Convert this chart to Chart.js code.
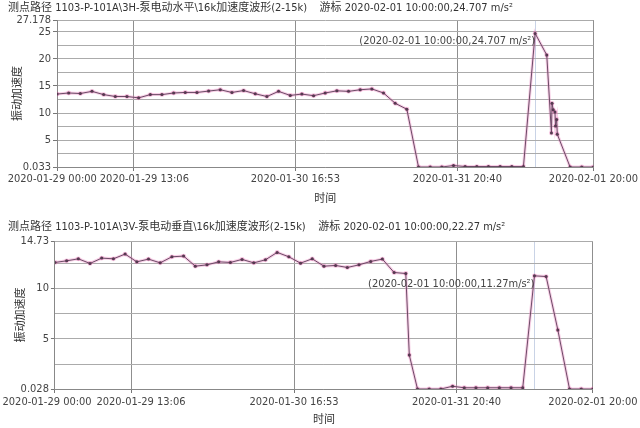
<!DOCTYPE html>
<html><head><meta charset="utf-8">
<script src="https://cdn.jsdelivr.net/npm/chart.js@4/dist/chart.umd.min.js"></script>
<style>
html,body{margin:0;padding:0;background:#fff;}
#wrap{position:relative;width:640px;height:428px;overflow:hidden;background:#fff;}
#c1{position:absolute;left:0;top:0;}
#c2{position:absolute;left:0;top:210px;}
</style></head><body>
<div id="wrap"><canvas id="c1" width="640" height="210"></canvas><canvas id="c2" width="640" height="218"></canvas></div>
<script>
// ---- data (x = hours since 2020-01-29 00:00) ----
const startTime = '2020-01-29 00:00';
const xTickHours = [0, 13.1, 40.883, 68.667, 82, 92];
const xTickLabels = ['2020-01-29 00:00', '2020-01-29 13:06', '2020-01-30 16:53', '2020-01-31 20:40', '', '2020-02-01 20:00'];
const cursorHour = 82;

const topTitle = '测点路径 1103-P-101A\\3H-泵电动水平\\16k加速度波形(2-15k)    游标 2020-02-01 10:00:00,24.707 m/s²';
const topCursorText = '(2020-02-01 10:00:00,24.707 m/s²)';
const topCursorValue = 24.707;
const topYTicks = [0.033, 2.5, 5, 7.5, 10, 12.5, 15, 17.5, 20, 22.5, 25, 27.178];
const topYLabels = ['0.033', '', '5', '', '10', '', '15', '', '20', '', '25', '27.178'];
const hoursTop = [0,2,4,6,8,10,12,14,16,18,20,22,24,26,28,30,32,34,36,38,40,42,44,46,48,50,52,54,56,58,60,62,64,66,68,70,72,74,76,78,80,82,84,84.8,84.9,85.1,85.4,85.5,85.7,85.8,88,90,92];
const accelTop = [13.5,13.7,13.6,14.0,13.4,13.05,13.05,12.8,13.4,13.4,13.7,13.8,13.8,14.05,14.3,13.8,14.15,13.55,13.05,14.0,13.25,13.5,13.2,13.7,14.1,14.0,14.3,14.45,13.7,11.8,10.7,0.033,0.033,0.033,0.3,0.12,0.12,0.12,0.12,0.12,0.12,24.707,20.7,6.3,11.8,10.6,10.2,7.6,8.8,6.1,0.033,0.033,0.033];

const bottomTitle = '测点路径 1103-P-101A\\3V-泵电动垂直\\16k加速度波形(2-15k)    游标 2020-02-01 10:00:00,22.27 m/s²';
const bottomCursorText = '(2020-02-01 10:00:00,11.27m/s²)';
const bottomCursorValue = 11.27;
const bottomYTicks = [0.028, 2.5, 5, 7.5, 10, 12.5, 14.73];
const bottomYLabels = ['0.028', '', '5', '', '10', '', '14.73'];
const hoursBottom = [0,2,4,6,8,10,12,14,16,18,20,22,24,26,28,30,32,34,36,38,40,42,44,46,48,50,52,54,56,58,60,60.6,62,64,66,68,70,72,74,76,78,80,82,84,86,88,90,92];
const accelBottom = [12.6,12.76,12.96,12.5,13.03,12.96,13.43,12.66,12.93,12.56,13.16,13.23,12.23,12.36,12.66,12.6,12.9,12.56,12.86,13.6,13.16,12.53,12.96,12.23,12.3,12.1,12.36,12.7,12.93,11.6,11.5,3.4,0.028,0.028,0.028,0.3,0.15,0.15,0.15,0.15,0.15,0.15,11.27,11.2,5.9,0.028,0.028,0.028];

// ---- rendering ----
const FONT = '"DejaVu Sans Condensed", "Liberation Sans", "Noto Sans CJK SC", sans-serif';
const TXT = '#444';

const cursorLabel = {
  id: 'cursorLabel',
  afterDatasetsDraw(chart, args, opts) {
    const {ctx, scales: {x, y}} = chart;
    const px = x.getPixelForValue(opts.hour);
    const py = y.getPixelForValue(opts.value);
    ctx.save();
    ctx.font = '11px ' + FONT;
    ctx.fillStyle = TXT;
    ctx.textAlign = 'right';
    ctx.textBaseline = 'middle';
    ctx.fillText(opts.text, px, py + 8);
    ctx.restore();
  }
};

function makeChart(canvasId, cfg) {
  const pts = cfg.hours.map((h, i) => ({x: h, y: cfg.values[i]}));
  const shiftLabel = (i) => {
    const s = xTickLabels[i];
    if (i === 0) return s + ' '.repeat(cfg.firstShift);
    if (i === 1) return ' '.repeat(cfg.secondShift) + s;
    return s;
  };
  return new Chart(document.getElementById(canvasId), {
    type: 'line',
    data: {
      datasets: [
        {data: pts, borderColor: '#6c4a66', borderWidth: 1, pointRadius: 1.5, pointBackgroundColor: '#553a50', pointBorderWidth: 0, tension: 0, order: 0},
        {data: pts, borderColor: 'rgba(235,130,190,0.38)', borderWidth: 3, pointRadius: 2.4, pointBackgroundColor: 'rgba(225,90,165,0.35)', pointBorderWidth: 0, tension: 0, order: 1}
      ]
    },
    options: {
      responsive: false,
      animation: false,
      layout: {padding: {left: 8, right: 44, top: 0, bottom: 0}},
      plugins: {
        legend: {display: false},
        tooltip: {enabled: false},
        title: {display: true, text: cfg.title, align: 'start', color: '#333',
          font: {family: FONT, size: 11, weight: 'normal'}, padding: cfg.titlePad},
        cursorLabel: {hour: cursorHour, value: cfg.cursorValue, text: cfg.cursorText}
      },
      scales: {
        x: {
          type: 'linear', min: 0, max: 92,
          afterBuildTicks: s => { s.ticks = xTickHours.map(v => ({value: v})); },
          afterFit: s => { s.height = cfg.xHeight; },
          ticks: {autoSkip: false, maxRotation: 0, minRotation: 0, padding: cfg.xTickPad, color: TXT,
            font: {family: FONT, size: 11}, callback: (v, i) => shiftLabel(i)},
          grid: {
            color: c => (c.tick && c.tick.value === cursorHour) ? '#c9d3e6' : '#8f8f8f',
            tickColor: c => (c.tick && c.tick.value === cursorHour) ? 'rgba(0,0,0,0)' : '#777',
            tickLength: 4, lineWidth: 1
          },
          border: {color: '#888'},
          title: {display: true, text: '时间', color: '#333', font: {family: FONT, size: 11},
            padding: {top: 0, bottom: cfg.xTitlePad}}
        },
        y: {
          min: cfg.yTicks[0], max: cfg.yTicks[cfg.yTicks.length - 1],
          afterBuildTicks: s => { s.ticks = cfg.yTicks.map(v => ({value: v})); },
          afterFit: s => { s.width = cfg.yWidth; },
          ticks: {autoSkip: false, padding: 2, color: TXT, font: {family: FONT, size: 11},
            callback: (v, i) => cfg.yLabels[i]},
          grid: {color: '#ababab', lineWidth: 1, tickLength: 4,
            tickColor: c => cfg.yLabels[c.index] ? '#777' : 'rgba(0,0,0,0)'},
          border: {color: '#888'},
          title: {display: true, text: '振动加速度', color: '#333', font: {family: FONT, size: 11},
            padding: {top: 3.4, bottom: 0}}
        }
      }
    },
    plugins: [cursorLabel]
  });
}

makeChart('c1', {
  hours: hoursTop, values: accelTop, title: topTitle, cursorText: topCursorText, cursorValue: topCursorValue,
  yTicks: topYTicks, yLabels: topYLabels, yWidth: 49, xHeight: 43, xTickPad: 2, xTitlePad: 4.4,
  titlePad: {top: 1.4, bottom: 5.4}, firstShift: 3, secondShift: 7
});
makeChart('c2', {
  hours: hoursBottom, values: accelBottom, title: bottomTitle, cursorText: bottomCursorText, cursorValue: bottomCursorValue,
  yTicks: bottomYTicks, yLabels: bottomYLabels, yWidth: 44, xHeight: 39, xTickPad: 2.5, xTitlePad: 1.4,
  titlePad: {top: 10.4, bottom: 7.4}, firstShift: 5, secondShift: 6
});
</script>
</body></html>
